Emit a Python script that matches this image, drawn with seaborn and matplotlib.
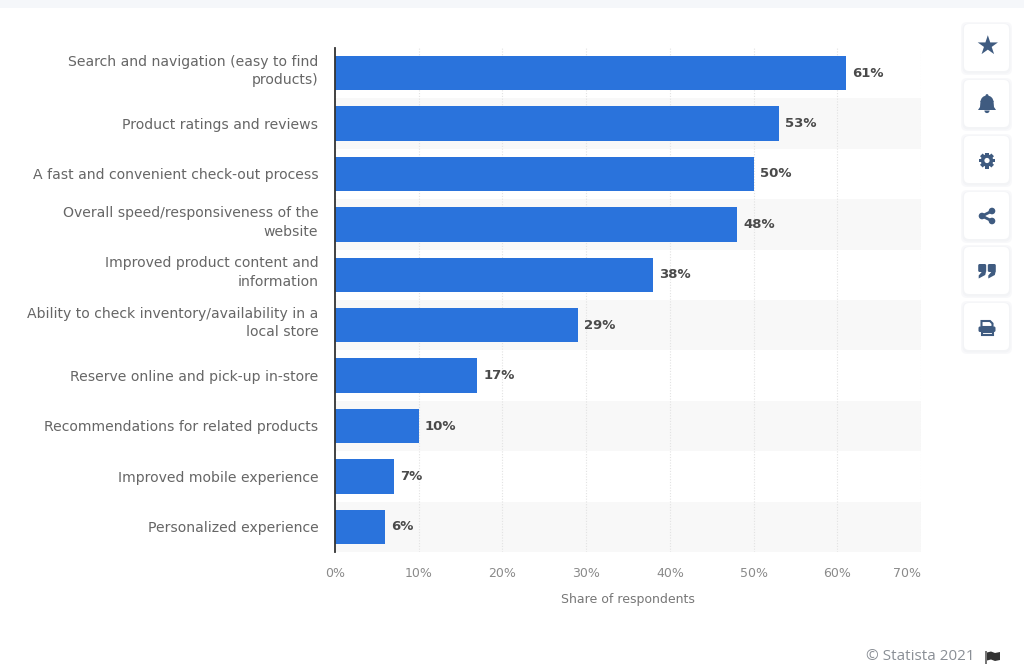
import matplotlib
matplotlib.use("Agg")
import matplotlib.pyplot as plt
from matplotlib.patches import Circle, FancyBboxPatch, Polygon, Rectangle, Wedge
from matplotlib.transforms import ScaledTranslation
import pandas as pd
import seaborn as sns

categories = [
    "Search and navigation (easy to find\nproducts)",
    "Product ratings and reviews",
    "A fast and convenient check-out process",
    "Overall speed/responsiveness of the\nwebsite",
    "Improved product content and\ninformation",
    "Ability to check inventory/availability in a\nlocal store",
    "Reserve online and pick-up in-store",
    "Recommendations for related products",
    "Improved mobile experience",
    "Personalized experience",
]
shares = [61, 53, 50, 48, 38, 29, 17, 10, 7, 6]
x_ticks = [0, 10, 20, 30, 40, 50, 60, 70]

BLUE = "#2a73dc"
ICON = "#3f5b80"
W, H = 1024, 671

sns.set_theme(style="white")
plt.rcParams["font.family"] = ["DejaVu Sans"]

df = pd.DataFrame({"category": categories, "share": shares})

fig = plt.figure(figsize=(W / 100, H / 100), dpi=100, facecolor="white")
ax = fig.add_axes([335 / W, 1 - 552 / H, (921 - 335) / W, (552 - 48) / H])

# Alternating row bands behind the bars
for i in range(1, len(categories), 2):
    ax.axhspan(i - 0.5, i + 0.5, color="#f8f8f8", lw=0, zorder=0)

sns.barplot(data=df, x="share", y="category", color=BLUE, saturation=1,
            width=0.68, linewidth=0, ax=ax, zorder=3)

ax.set_xlim(0, 70)
ax.set_ylim(len(categories) - 0.5, -0.5)
ax.set_xticks(x_ticks)
ax.set_xticklabels([f"{t}%" for t in x_ticks], fontsize=9, color="#8a8a8a")
ax.get_xticklabels()[-1].set_ha("right")
ax.tick_params(axis="x", length=0, pad=11)
ax.tick_params(axis="y", length=0, pad=12, labelsize=10.1, labelcolor="#666666")
ax.set_yticks(range(len(categories)))
ax.set_yticklabels(categories, linespacing=1.42, ha="right")
ax.set_xlabel("Share of respondents", fontsize=9, color="#777777", labelpad=9)
ax.set_ylabel("")
ax.grid(axis="x", color="#e2e2e2", lw=0.8, ls=(0, (1, 1.5)), zorder=1)
ax.set_axisbelow(True)

# Two-line labels sit a little above the row centre
up = ScaledTranslation(0, 6 / 100, fig.dpi_scale_trans)
for label in ax.get_yticklabels():
    if "\n" in label.get_text():
        label.set_transform(label.get_transform() + up)

for side in ["top", "right", "bottom"]:
    ax.spines[side].set_visible(False)
ax.spines["left"].set_color("#333333")
ax.spines["left"].set_linewidth(1.3)
ax.spines["left"].set_zorder(5)

for cont in ax.containers:
    ax.bar_label(cont, fmt="%g%%", padding=4.5, fontsize=9.5, fontweight="bold", color="#4a4a4a")

# Page furniture in pixel coordinates: top strip, toolbar cards, footer
page = fig.add_axes([0, 0, 1, 1], zorder=-1)
page.set_xlim(0, W)
page.set_ylim(H, 0)
page.axis("off")
page.add_patch(Rectangle((0, 0), W, 8, color="#f5f7fa", lw=0))

card_tops = [26, 82, 138, 194, 249, 305]
for top in card_tops:
    # soft shadow from two slightly wider, faint boxes
    for grow in (3, 1.5):
        page.add_patch(FancyBboxPatch((966 - grow, top + 1 - grow), 41 + 2 * grow, 43 + 2 * grow,
                                      boxstyle="round,pad=2,rounding_size=6",
                                      fc="#e8ebf0", ec="none", alpha=0.3))
    page.add_patch(FancyBboxPatch((966, top), 41, 43, boxstyle="round,pad=2,rounding_size=5",
                                  fc="white", ec="none"))

cx = 987
page.text(cx, 47, "\u2605", fontsize=19, color=ICON, ha="center", va="center")

# bell
page.add_patch(Wedge((cx, 102), 6.5, 180, 360, fc=ICON, ec="none"))
page.add_patch(Polygon([(cx - 6.5, 101), (cx + 6.5, 101), (cx + 7, 107), (cx + 9, 110),
                        (cx - 9, 110), (cx - 7, 107)], fc=ICON, ec="none"))
page.add_patch(Wedge((cx, 110.5), 2.6, 0, 180, fc=ICON, ec="none"))
page.add_patch(Circle((cx, 95.5), 1.4, fc=ICON, ec="none"))

# gear
for angle in range(0, 180, 45):
    page.add_patch(Rectangle((cx - 1.9, 160.5 - 8), 3.8, 16, angle=angle, rotation_point=(cx, 160.5),
                             fc=ICON, ec="none"))
page.add_patch(Circle((cx, 160.5), 6.2, fc=ICON, ec="none"))
page.add_patch(Circle((cx, 160.5), 2.6, fc="white", ec="none"))

# share
page.plot([cx + 5, cx - 5, cx + 5], [211, 216, 221], color=ICON, lw=2)
for px, py in [(cx + 5, 211), (cx - 5, 216), (cx + 5, 221)]:
    page.add_patch(Circle((px, py), 3.3, fc=ICON, ec="none"))

# quote marks
for dx in (-4.8, 4.8):
    page.add_patch(FancyBboxPatch((cx + dx - 3, 265), 6, 6, boxstyle="round,pad=1,rounding_size=1.5",
                                  fc=ICON, ec="none"))
    page.add_patch(Polygon([(cx + dx + 4, 271), (cx + dx + 3, 275), (cx + dx - 3.5, 278.5),
                            (cx + dx - 3.5, 275.5), (cx + dx - 0.5, 272)], fc=ICON, ec="none"))

# printer
page.add_patch(Polygon([(cx - 5.5, 327), (cx - 5.5, 321), (cx + 3, 321), (cx + 5.5, 323.5), (cx + 5.5, 327)],
                       fc="none", ec=ICON, lw=1.5))
page.add_patch(FancyBboxPatch((cx - 8, 327), 16, 4.5, boxstyle="round,pad=0.5,rounding_size=1.5",
                              fc=ICON, ec="none"))
page.add_patch(Rectangle((cx - 5.5, 332), 11, 3, fc="none", ec=ICON, lw=1.5))

page.text(975, 657, "\u00a9 Statista 2021", fontsize=11, color="#8a8f96", ha="right", va="center",
          family="Open Sans")

# footer flag
page.add_patch(Rectangle((985, 651), 1.5, 13, fc="#777777", ec="none"))
page.add_patch(Polygon([(987, 652.5), (991, 651.5), (995, 653), (1000, 652), (1000, 660),
                        (995, 661), (991, 659.5), (987, 660.5)], fc="#333333", ec="none"))

fig.savefig("out.png", dpi=100, facecolor="white")
